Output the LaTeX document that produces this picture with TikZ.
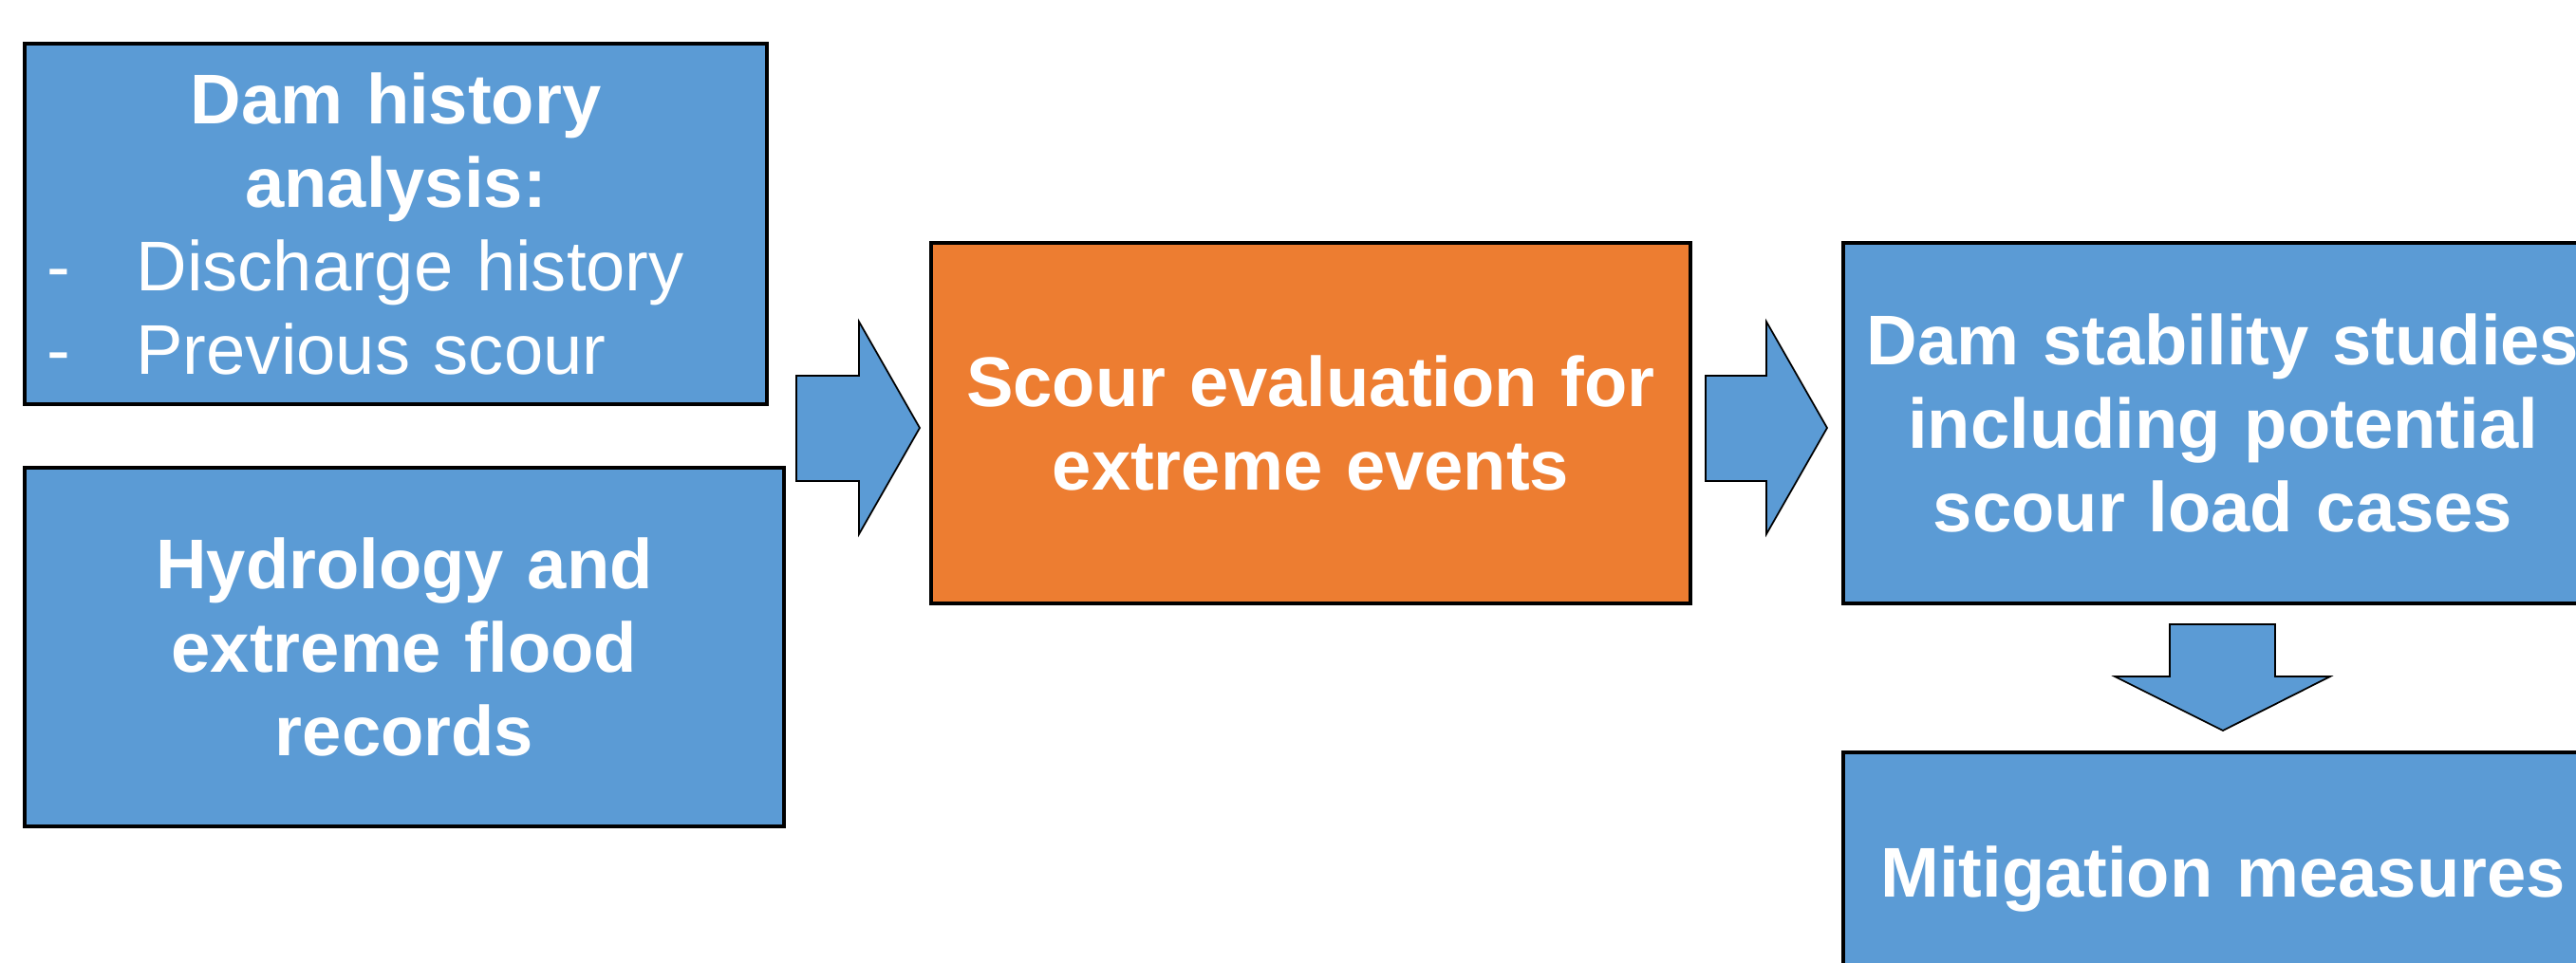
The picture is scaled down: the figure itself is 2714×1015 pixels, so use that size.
\documentclass[tikz,border=0pt]{standalone}
\usepackage{fontspec}
\setmainfont{Liberation Sans}
\definecolor{boxblue}{HTML}{5B9BD5}
\definecolor{boxorange}{HTML}{ED7D31}
\tikzset{
  stagebox/.style={draw=black, line width=0.04cm, inner sep=0pt, align=center,
    text=white, font=\fontsize{21.1}{25}\selectfont\bfseries},
  blockarrow/.style={draw=black, line width=0.5pt, fill=boxblue, line join=miter}
}
\begin{document}
\begin{tikzpicture}[x=0.01cm, y=-0.01cm]
\useasboundingbox (0,0) rectangle (2714,1015);
\clip (0,0) rectangle (2714,1015);
\fill[white] (0,0) rectangle (2714,1015);

\node[stagebox, fill=boxblue, minimum width=7.82cm, minimum height=3.79cm, text width=7.82cm] (hist) at (417,236)
  {Dam history\\analysis:\\
   \mdseries\makebox[\linewidth][l]{\hspace{0.24cm}-\hspace{0.69cm}Discharge history}\\
   \makebox[\linewidth][l]{\hspace{0.24cm}-\hspace{0.69cm}Previous scour}};
\node[stagebox, fill=boxblue, minimum width=8.0cm, minimum height=3.78cm, text width=8.0cm] (hydro) at (426,682)
  {Hydrology and\\extreme flood\\records};
\node[stagebox, fill=boxorange, minimum width=8.0cm, minimum height=3.8cm, text width=8.0cm] (scour) at (1381,446)
  {Scour evaluation for\\extreme events};
\node[stagebox, fill=boxblue, minimum width=8.0cm, minimum height=3.8cm, text width=8.0cm] (stab) at (2342,446)
  {Dam stability studies\\including potential\\scour load cases};
\node[stagebox, fill=boxblue, minimum width=8.0cm, minimum height=2.66cm, text width=8.0cm] (mitig) at (2342,926)
  {Mitigation measures};

% block arrows
\draw[blockarrow] (839,396) -- (905,396) -- (905,339) -- (969,451) -- (905,563) -- (905,507) -- (839,507) -- cycle;
\draw[blockarrow] (1797,396) -- (1861,396) -- (1861,339) -- (1925,451) -- (1861,563) -- (1861,507) -- (1797,507) -- cycle;
\draw[blockarrow] (2286,658) -- (2397,658) -- (2397,713) -- (2455,713) -- (2342,770) -- (2228,713) -- (2286,713) -- cycle;
\end{tikzpicture}
\end{document}
